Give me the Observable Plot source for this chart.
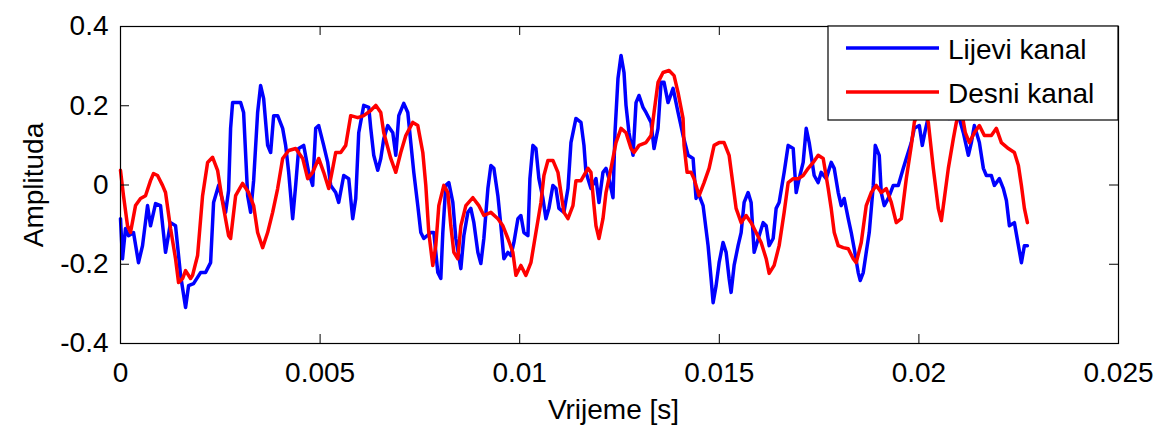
<!DOCTYPE html>
<html>
<head>
<meta charset="utf-8">
<script src="https://cdn.jsdelivr.net/npm/d3@7"></script>
<script src="https://cdn.jsdelivr.net/npm/@observablehq/plot@0.6"></script>
<style>
  body { margin: 0; background: #fff; }
</style>
</head>
<body>
<div id="chart"></div>
<script>
// Axis ticks and labels
const xTicks = [0, 0.005, 0.01, 0.015, 0.02, 0.025];
const yTicks = [-0.4, -0.2, 0, 0.2, 0.4];
const xLabel = "Vrijeme [s]";
const yLabel = "Amplituda";
const seriesNames = ["Lijevi kanal", "Desni kanal"];
const seriesColors = ["#0000ff", "#ff0000"];

// Left channel: [time in ms, amplitude]
const leftChannel = [
  [0,-0.085],[0.050,-0.186],[0.125,-0.110],[0.201,-0.128],[0.326,-0.120],[0.451,-0.196],[0.552,-0.153],[0.677,-0.052],
  [0.752,-0.103],[0.878,-0.047],[1.003,-0.052],[1.128,-0.170],[1.254,-0.095],[1.379,-0.103],[1.505,-0.228],[1.630,-0.309],
  [1.705,-0.254],[1.830,-0.249],[2.006,-0.221],[2.131,-0.221],[2.257,-0.196],[2.332,-0.044],[2.457,-0.001],[2.558,-0.039],
  [2.633,-0.069],[2.708,-0.014],[2.758,0.143],[2.808,0.208],[3.009,0.208],[3.084,0.183],[3.185,-0.027],[3.260,-0.069],
  [3.335,0.011],[3.435,0.183],[3.510,0.251],[3.586,0.218],[3.686,0.100],[3.761,0.082],[3.837,0.175],[3.937,0.175],
  [4.062,0.143],[4.137,0.100],[4.213,0.032],[4.313,-0.085],[4.388,-0.001],[4.463,0.092],[4.589,0.100],[4.714,0.032],
  [4.814,-0.001],[4.890,0.143],[4.965,0.150],[5.090,0.100],[5.191,0.057],[5.266,-0.001],[5.391,-0.019],[5.466,-0.044],
  [5.592,0.024],[5.717,0.016],[5.817,-0.085],[5.893,-0.034],[5.968,0.132],[6.093,0.201],[6.219,0.196],[6.269,0.143],
  [6.344,0.075],[6.444,0.037],[6.520,0.067],[6.595,0.117],[6.695,0.150],[6.821,0.132],[6.896,0.075],[6.971,0.175],
  [7.096,0.206],[7.197,0.183],[7.272,0.107],[7.347,0.032],[7.447,-0.052],[7.523,-0.120],[7.598,-0.135],[7.773,-0.120],
  [7.849,-0.120],[7.949,-0.221],[8.024,-0.236],[8.074,-0.120],[8.149,-0.001],[8.225,0.006],[8.325,-0.044],[8.400,-0.135],
  [8.526,-0.211],[8.601,-0.128],[8.701,-0.069],[8.776,-0.059],[8.852,-0.095],[8.952,-0.170],[9.027,-0.198],[9.102,-0.135],
  [9.203,-0.009],[9.278,0.049],[9.353,0.042],[9.453,-0.027],[9.529,-0.103],[9.604,-0.186],[9.704,-0.170],[9.779,-0.178],
  [9.855,-0.145],[9.955,-0.085],[10.030,-0.077],[10.105,-0.120],[10.206,-0.128],[10.256,0.016],[10.331,0.100],[10.406,0.092],
  [10.481,0.016],[10.582,-0.034],[10.657,-0.085],[10.732,-0.059],[10.832,-0.001],[10.908,-0.009],[10.983,-0.059],[11.108,-0.069],
  [11.209,-0.009],[11.284,0.107],[11.409,0.168],[11.535,0.158],[11.610,0.100],[11.660,0.032],[11.785,-0.009],[11.911,0.016],
  [11.986,-0.044],[12.086,0.032],[12.162,0.042],[12.237,0.016],[12.337,-0.032],[12.387,0.132],[12.462,0.269],[12.538,0.327],
  [12.613,0.284],[12.663,0.201],[12.738,0.132],[12.839,0.075],[12.914,0.208],[12.989,0.226],[13.089,0.196],[13.164,0.183],
  [13.290,0.158],[13.365,0.092],[13.465,0.143],[13.541,0.259],[13.616,0.259],[13.716,0.208],[13.842,0.244],[13.967,0.183],
  [14.092,0.125],[14.218,0.075],[14.343,0.067],[14.418,-0.034],[14.468,-0.019],[14.594,-0.052],[14.719,-0.153],[14.794,-0.236],
  [14.845,-0.297],[14.920,-0.254],[14.995,-0.196],[15.095,-0.145],[15.171,-0.170],[15.246,-0.236],[15.296,-0.271],[15.371,-0.203],
  [15.471,-0.153],[15.547,-0.120],[15.622,-0.044],[15.722,-0.019],[15.797,-0.044],[15.873,-0.170],[15.998,-0.128],[16.098,-0.095],
  [16.174,-0.103],[16.249,-0.153],[16.349,-0.135],[16.424,-0.059],[16.499,-0.044],[16.625,0.032],[16.725,0.100],[16.851,0.092],
  [16.926,-0.019],[17.001,0.016],[17.101,0.057],[17.177,0.143],[17.252,0.107],[17.377,0.024],[17.477,0.006],[17.553,0.032],
  [17.678,0.016],[17.803,0.057],[17.879,0.042],[17.979,-0.019],[18.054,-0.052],[18.129,-0.034],[18.230,-0.085],[18.305,-0.120],
  [18.380,-0.161],[18.480,-0.221],[18.531,-0.241],[18.606,-0.221],[18.681,-0.170],[18.756,-0.120],[18.857,-0.001],[18.907,0.100],
  [19.007,0.075],[19.057,-0.019],[19.132,-0.052],[19.233,-0.034],[19.358,-0.001],[19.483,-0.001],[19.609,0.042],[19.684,0.067],
  [19.810,0.107],[19.885,0.143],[20.010,0.150],[20.085,0.100],[20.160,0.138],[20.261,0.183],[20.436,0.213],[20.612,0.190],
  [20.762,0.168],[20.888,0.196],[21.013,0.168],[21.113,0.132],[21.239,0.075],[21.314,0.107],[21.389,0.150],[21.515,0.107],
  [21.615,0.042],[21.690,0.024],[21.815,0.024],[21.891,-0.001],[22.016,0.016],[22.116,-0.009],[22.192,-0.039],[22.267,-0.103],
  [22.392,-0.095],[22.493,-0.153],[22.568,-0.196],[22.643,-0.153],[22.718,-0.153]
];

// Right channel: [time in ms, amplitude]
const rightChannel = [
  [0,0.037],[0.075,-0.027],[0.176,-0.103],[0.251,-0.120],[0.376,-0.052],[0.502,-0.034],[0.627,-0.027],[0.752,0.011],
  [0.827,0.029],[0.928,0.024],[1.053,-0.001],[1.128,-0.019],[1.254,-0.110],[1.379,-0.186],[1.454,-0.246],[1.555,-0.236],
  [1.630,-0.216],[1.755,-0.236],[1.805,-0.228],[1.931,-0.178],[2.056,-0.027],[2.182,0.057],[2.307,0.070],[2.432,0.037],
  [2.558,-0.044],[2.708,-0.128],[2.758,-0.135],[2.884,-0.027],[3.059,0.004],[3.210,-0.019],[3.335,-0.052],[3.435,-0.120],
  [3.561,-0.158],[3.686,-0.120],[3.811,-0.069],[3.937,-0.009],[4.062,0.067],[4.213,0.087],[4.388,0.092],[4.564,0.067],
  [4.689,0.016],[4.814,0.032],[4.965,0.067],[5.090,0.032],[5.216,-0.009],[5.316,0.042],[5.391,0.082],[5.517,0.082],
  [5.642,0.100],[5.767,0.175],[5.943,0.170],[6.093,0.175],[6.269,0.188],[6.394,0.201],[6.520,0.183],[6.595,0.132],
  [6.770,0.067],[6.896,0.032],[7.021,0.082],[7.147,0.125],[7.322,0.158],[7.447,0.150],[7.573,0.082],[7.648,-0.001],
  [7.723,-0.120],[7.823,-0.203],[7.898,-0.153],[7.974,-0.052],[8.099,-0.001],[8.200,-0.019],[8.275,-0.103],[8.350,-0.170],
  [8.450,-0.186],[8.526,-0.103],[8.651,-0.052],[8.827,-0.032],[8.977,-0.052],[9.102,-0.077],[9.278,-0.069],[9.453,-0.085],
  [9.579,-0.103],[9.704,-0.135],[9.829,-0.170],[9.905,-0.228],[10.030,-0.203],[10.155,-0.228],[10.281,-0.196],[10.406,-0.120],
  [10.532,-0.044],[10.607,0.024],[10.707,0.062],[10.832,0.062],[10.958,0.032],[11.033,-0.019],[11.108,-0.069],[11.209,-0.085],
  [11.334,-0.052],[11.409,0.011],[11.535,0.011],[11.710,0.042],[11.785,0.032],[11.861,-0.052],[11.911,-0.103],[11.986,-0.135],
  [12.086,-0.085],[12.162,-0.019],[12.287,0.042],[12.412,0.107],[12.538,0.143],[12.663,0.132],[12.788,0.092],[12.864,0.082],
  [12.989,0.100],[13.164,0.107],[13.290,0.125],[13.365,0.183],[13.465,0.259],[13.591,0.284],[13.741,0.289],[13.867,0.276],
  [13.967,0.233],[14.092,0.168],[14.117,0.100],[14.193,0.032],[14.293,0.032],[14.368,0.016],[14.493,-0.027],[14.619,0.006],
  [14.744,0.042],[14.870,0.100],[14.995,0.107],[15.120,0.107],[15.246,0.075],[15.346,-0.001],[15.421,-0.059],[15.547,-0.095],
  [15.672,-0.077],[15.797,-0.095],[15.923,-0.120],[16.048,-0.145],[16.174,-0.186],[16.249,-0.223],[16.374,-0.203],[16.499,-0.153],
  [16.625,-0.069],[16.725,0.006],[16.851,0.016],[16.976,0.016],[17.101,0.024],[17.227,0.042],[17.352,0.057],[17.477,0.075],
  [17.603,0.067],[17.728,-0.009],[17.803,-0.059],[17.879,-0.120],[17.979,-0.153],[18.104,-0.158],[18.230,-0.161],[18.355,-0.186],
  [18.430,-0.196],[18.556,-0.145],[18.681,-0.052],[18.806,-0.019],[18.932,-0.001],[19.057,-0.019],[19.182,-0.009],[19.308,-0.044],
  [19.433,-0.095],[19.559,-0.085],[19.684,0.016],[19.810,0.100],[19.885,0.158],[19.985,0.188],[20.110,0.193],[20.186,0.175],
  [20.236,0.158],[20.361,0.042],[20.486,-0.059],[20.562,-0.090],[20.637,-0.034],[20.737,0.042],[20.863,0.117],[20.938,0.158],
  [21.013,0.183],[21.088,0.175],[21.163,0.132],[21.264,0.107],[21.389,0.132],[21.515,0.150],[21.640,0.125],[21.815,0.125],
  [21.941,0.143],[22.066,0.107],[22.242,0.092],[22.392,0.082],[22.493,0.049],[22.568,-0.001],[22.643,-0.059],[22.718,-0.095]
];

const toRows = (pairs) => pairs.map(([ms, v]) => ({t: ms / 1000, v}));
const leftRows = toRows(leftChannel);
const rightRows = toRows(rightChannel);

const W = 1156, H = 431;
const margin = {left: 120, right: 38, top: 26, bottom: 88};
const frameW = W - margin.left - margin.right;
const frameH = H - margin.top - margin.bottom;
const tickLen = 9;
const font = '"Liberation Sans", Arial, Helvetica, sans-serif';

const chart = Plot.plot({
  width: W,
  height: H,
  marginLeft: margin.left,
  marginRight: margin.right,
  marginTop: margin.top,
  marginBottom: margin.bottom,
  style: {fontFamily: font, fontSize: "28px", color: "#000", background: "#fff"},
  x: {domain: [xTicks[0], xTicks[xTicks.length - 1]]},
  y: {domain: [yTicks[0], yTicks[yTicks.length - 1]]},
  marks: [
    Plot.line(leftRows, {x: "t", y: "v", stroke: seriesColors[0], strokeWidth: 3.5}),
    Plot.line(rightRows, {x: "t", y: "v", stroke: seriesColors[1], strokeWidth: 3.5}),
    // inward tick marks on all four sides of the box
    Plot.ruleX(xTicks, {x: (d) => d, insetTop: frameH - tickLen, stroke: "#000"}),
    Plot.ruleX(xTicks, {x: (d) => d, insetBottom: frameH - tickLen, stroke: "#000"}),
    Plot.ruleY(yTicks, {y: (d) => d, insetRight: frameW - tickLen, stroke: "#000"}),
    Plot.ruleY(yTicks, {y: (d) => d, insetLeft: frameW - tickLen, stroke: "#000"}),
    // tick labels
    Plot.axisX({ticks: xTicks, tickFormat: (d) => String(d), tickSize: 0, tickPadding: 19, label: null}),
    Plot.axisY({ticks: yTicks, tickFormat: (d) => String(d), tickSize: 0, tickPadding: 12, label: null}),
    Plot.frame({stroke: "#000", strokeWidth: 1.2}),
    Plot.text([xLabel], {frameAnchor: "bottom", textAnchor: "middle", dx: -6, dy: 56, lineAnchor: "top", fontSize: 28}),
    Plot.text([yLabel], {frameAnchor: "left", textAnchor: "middle", lineAnchor: "middle", rotate: -90, dx: -86, fontSize: 28})
  ]
});

// Legend box in the upper-right corner of the axes
const svg = d3.select(chart);
const legW = 290, legH = 94;
const lx = W - margin.right - legW, ly = margin.top;
const leg = svg.append("g")
  .attr("font-family", font)
  .attr("font-size", 28)
  .attr("text-anchor", "start");
leg.append("rect")
  .attr("x", lx).attr("y", ly)
  .attr("width", legW).attr("height", legH)
  .attr("fill", "#fff").attr("stroke", "#000").attr("stroke-width", 1.2);
seriesNames.forEach((name, i) => {
  const y = ly + 22 + i * 44;
  leg.append("line")
    .attr("x1", lx + 18).attr("x2", lx + 111)
    .attr("y1", y).attr("y2", y)
    .attr("stroke", seriesColors[i]).attr("stroke-width", 3.5);
  leg.append("text")
    .attr("x", lx + 120).attr("y", y + 11)
    .attr("text-anchor", "start")
    .attr("fill", "#000")
    .text(name);
});

document.getElementById("chart").appendChild(chart);
</script>
</body>
</html>
